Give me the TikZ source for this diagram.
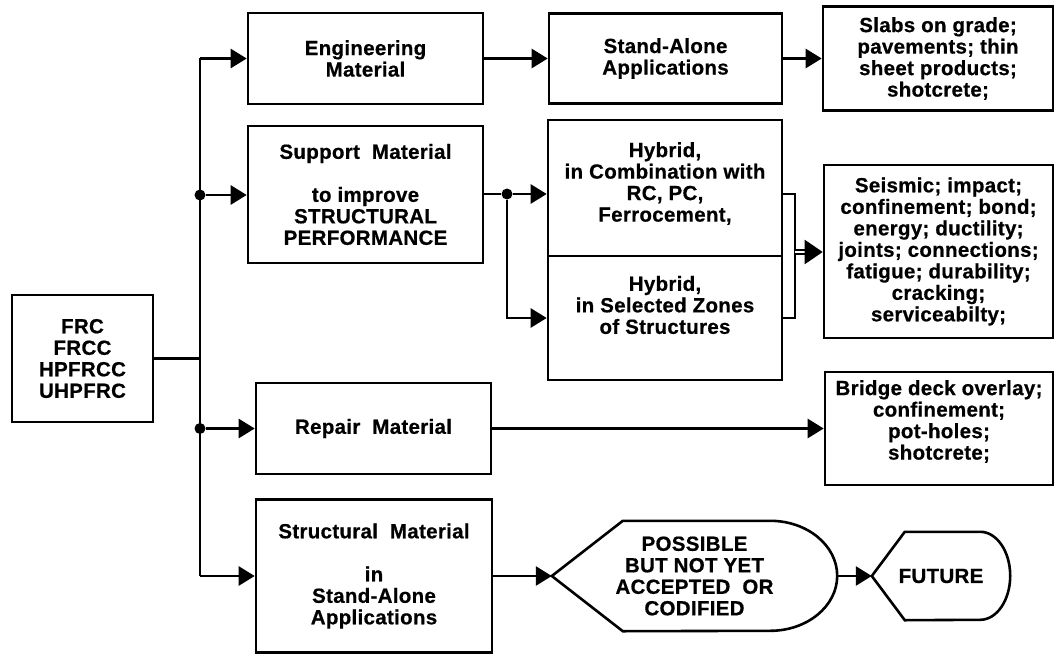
\documentclass[tikz,border=0pt]{standalone}
\usepackage{fontspec}
\setmainfont{Liberation Sans}[LetterSpace=1.5, FakeBold=0.6]
\usetikzlibrary{arrows.meta}
\tikzset{
  box/.style={draw, line width=2.6pt, align=center, inner sep=0pt},
  txt/.style={align=center, inner sep=0pt},
  wire/.style={line width=2.6pt},
  flow/.style={wire, -{Triangle[length=16pt,width=19pt]}},
  junction/.style={circle, fill, inner sep=0pt, minimum size=11pt},
}
\begin{document}
\begin{tikzpicture}[x=1pt, y=-1pt, font=\bfseries\fontsize{20.5}{21.5}\selectfont]
  \useasboundingbox (0,0) rectangle (1056,655);
  \node[box, minimum width=141pt, minimum height=127pt] (frc) at (82.5,358.5) {FRC\\FRCC\\HPFRCC\\UHPFRC};
  \node[box, minimum width=235pt, minimum height=91pt] (engineering) at (365.5,58.5) {Engineering\\Material};
  \node[box, minimum width=235pt, minimum height=137pt] (support) at (365.5,194.5) {Support\ \ Material\\[21.5pt]to improve\\STRUCTURAL\\PERFORMANCE};
  \node[box, minimum width=235pt, minimum height=91pt] (repair) at (373.5,428.5) {Repair\ \ Material};
  \node[box, minimum width=236pt, minimum height=153pt] (structural) at (374,576) {Structural\ \ Material\\[21.5pt]in\\Stand-Alone\\Applications};
  \node[box, minimum width=233pt, minimum height=90pt] (standalone) at (665.5,58.5) {Stand-Alone\\Applications};
  \node[box, minimum width=230pt, minimum height=104pt] (slabs) at (938,58.5) {Slabs on grade;\\pavements; thin\\sheet products;\\shotcrete;};
  \node[box, minimum width=234pt, minimum height=136pt] (hybA) at (665,188) {};
  \node[txt] (hybAtext) at ([yshift=4.5pt]hybA.center) {Hybrid,\\in Combination with\\RC, PC,\\Ferrocement,};
  \node[box, minimum width=234pt, minimum height=124pt] (hybB) at (665,318) {};
  \node[txt] (hybBtext) at ([yshift=13pt]hybB.center) {Hybrid,\\in Selected Zones\\of Structures};
  \node[box, minimum width=229pt, minimum height=173pt] (seismic) at (938.5,251.5) {Seismic; impact;\\confinement; bond;\\energy; ductility;\\joints; connections;\\fatigue; durability;\\cracking;\\serviceabilty;};
  \node[box, minimum width=228pt, minimum height=113pt] (bridge) at (939,428.5) {};
  \node[txt] (bridgetext) at ([yshift=7pt]bridge.center) {Bridge deck overlay;\\confinement;\\pot-holes;\\shotcrete;};
  \node[txt, minimum width=285pt, minimum height=110pt] (possible) at (694.5,576) {POSSIBLE\\BUT NOT YET\\ACCEPTED\ \ OR\\CODIFIED};
  \node[txt, minimum width=138pt, minimum height=88pt] (future) at (941,576) {FUTURE};
  \draw[wire] (possible.west) -- ([xshift=71pt]possible.north west) -- ([xshift=-67pt]possible.north east)
    arc[start angle=90, end angle=-90, x radius=67pt, y radius=55pt]
    -- ([xshift=71pt]possible.south west) -- cycle;
  \draw[wire] (future.west) -- ([xshift=33pt]future.north west) -- ([xshift=-30pt]future.north east)
    arc[start angle=90, end angle=-90, x radius=30pt, y radius=44pt]
    -- ([xshift=33pt]future.south west) -- cycle;
  \node[junction] (j1) at (200,195) {};
  \node[junction] (j2) at (200,428.5) {};
  \node[junction] (j3) at (507,194) {};
  \coordinate (bracket) at (795,252);
  \draw[wire] (frc.east) -- (frc.east -| j1);
  \draw[wire] (j1 |- engineering.west) -- (j1 |- structural.west);
  \draw[flow] (j1 |- engineering.west) -- (engineering.west);
  \draw[flow] (j1) -- (j1 -| support.west);
  \draw[flow] (j2) -- (repair.west);
  \draw[flow] (j1 |- structural.west) -- (structural.west);
  \draw[flow] (engineering.east) -- (standalone.west);
  \draw[flow] (standalone.east) -- (slabs.west);
  \draw[wire] (support.east |- j3) -- (j3);
  \draw[flow] (j3) -- (j3 -| hybA.west);
  \draw[flow] (j3) |- (hybB.west);
  \draw[wire] (j3 -| hybA.east) -| (bracket) |- (hybB.east);
  \draw[-{Triangle[length=18pt,width=24pt]}, double, double distance=2pt, line width=2.2pt] (bracket) -- (bracket -| seismic.west);
  \draw[flow] (repair.east) -- (bridge.west);
  \draw[flow] (structural.east) -- (possible.west);
  \draw[flow] (possible.east) -- (future.west);
\end{tikzpicture}
\end{document}
